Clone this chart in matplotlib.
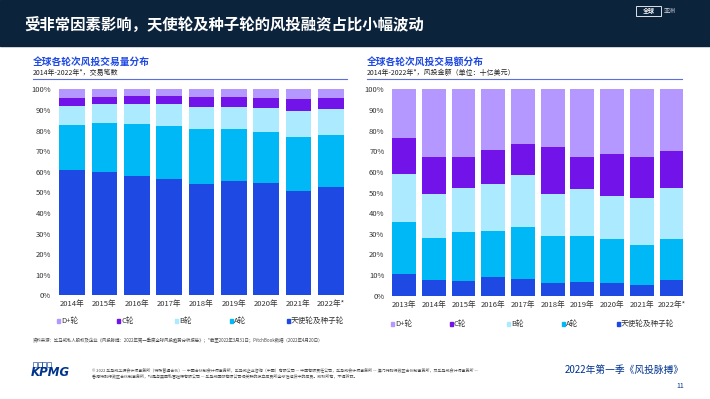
import matplotlib.pyplot as plt
import numpy as np
from matplotlib.patches import Rectangle

plt.rcParams['font.family'] = ['Noto Sans CJK SC', 'DejaVu Sans']

# ---- data (shares in %) ----
years_l = ['2014年', '2015年', '2016年', '2017年', '2018年', '2019年', '2020年', '2021年', '2022年*']
seed_l = [60.8, 59.8, 57.9, 56.5, 54.0, 55.5, 54.7, 50.8, 52.4]
a_l = [21.9, 23.7, 25.3, 25.8, 26.7, 25.4, 24.7, 26.0, 25.6]
b_l = [9.2, 9.2, 9.7, 10.6, 10.9, 10.7, 11.5, 12.7, 12.6]
c_l = [4.0, 3.7, 3.7, 3.9, 4.8, 4.8, 5.0, 5.8, 5.3]
d_l = [4.1, 3.6, 3.4, 3.2, 3.6, 3.6, 4.1, 4.7, 4.1]

years_r = ['2013年', '2014年', '2015年', '2016年', '2017年', '2018年', '2019年', '2020年', '2021年', '2022年*']
seed_r = [10.7, 7.8, 7.3, 8.9, 8.1, 6.3, 6.8, 6.3, 5.3, 7.5]
a_r = [25.0, 20.1, 23.8, 22.5, 25.1, 22.5, 22.0, 21.1, 19.1, 19.8]
b_r = [23.3, 21.4, 21.1, 22.8, 25.4, 20.4, 22.8, 21.1, 23.1, 24.9]
c_r = [17.4, 17.7, 14.8, 16.3, 15.1, 22.8, 15.4, 20.0, 19.5, 18.0]
d_r = [23.6, 33.0, 33.0, 29.5, 26.3, 28.0, 33.0, 31.5, 33.0, 29.8]

labels = ['D+轮', 'C轮', 'B轮', 'A轮', '天使轮及种子轮']
colors = ['#B497FF', '#7213EA', '#ACEAFF', '#00B8F5', '#1E49E2']

W, H = 710, 399
fig = plt.figure(figsize=(W / 100, H / 100), dpi=100)


def fx(x):
    return x / W


def fy(y):
    return 1 - y / H


# header band
fig.patches.append(Rectangle((0, fy(46)), 1, 46 / H, transform=fig.transFigure,
                             color='#0C233C', zorder=0))
fig.text(fx(24), fy(25.5), '受非常因素影响，天使轮及种子轮的风投融资占比小幅波动',
         color='white', fontsize=11.1, fontweight='bold', va='center')
fig.patches.append(Rectangle((fx(636), fy(16)), 25 / W, 10 / H, transform=fig.transFigure,
                             fill=False, edgecolor='white', lw=0.6))
fig.text(fx(648.5), fy(11), '全球', color='white', fontsize=4.3, ha='center', va='center',
         fontweight='bold')
fig.text(fx(664), fy(11), '亚洲', color='#C8CFD8', fontsize=4.3, va='center')


def stacked(ax, years, seed, a, b, c, d):
    x = np.arange(len(years))
    series = [seed, a, b, c, d]
    cols = colors[::-1]
    bottom = np.zeros(len(years))
    for s, col in zip(series, cols):
        ax.bar(x, s, 0.8, bottom=bottom, color=col, linewidth=0)
        bottom += np.array(s)
    ax.set_xlim(-0.5, len(years) - 0.5)
    ax.set_ylim(0, 100)
    ax.set_yticks(np.arange(0, 101, 10))
    ax.set_yticklabels([f'{v}%' for v in range(0, 101, 10)])
    ax.set_xticks(x)
    ax.set_xticklabels(years)
    ax.tick_params(length=0, labelsize=5.5, labelcolor='#333333', pad=3.5)
    for sp in ax.spines.values():
        sp.set_visible(False)


axl = fig.add_axes([fx(56), fy(295.3), 291 / W, 206 / H])
stacked(axl, years_l, seed_l, a_l, b_l, c_l, d_l)
axr = fig.add_axes([fx(389.3), fy(295.7), 297 / W, 206.4 / H])
stacked(axr, years_r, seed_r, a_r, b_r, c_r, d_r)

# chart titles
for x0, x1, t, st in [(33, 347, '全球各轮次风投交易量分布', '2014年-2022年*，交易笔数'),
                      (367, 682, '全球各轮次风投交易额分布', '2014年-2022年*，风投金额（单位：十亿美元）')]:
    fig.text(fx(x0), fy(62), t, color='#1E49E2', fontsize=7, fontweight='bold', va='center')
    fig.text(fx(x0), fy(72.5), st, color='#222222', fontsize=5, va='center')
    fig.add_artist(plt.Line2D([fx(x0), fx(x1)], [fy(79), fy(79)], color='#5B6FE0', lw=0.8))

# legends
for xs, yl in [([58, 118, 176, 231, 288], 321), ([392, 451, 508, 563, 618], 324)]:
    for xm, lab, col in zip(xs, labels, colors):
        fig.patches.append(Rectangle((fx(xm - 1.5), fy(yl + 1.8)), 3.6 / W, 3.6 / H,
                                     transform=fig.transFigure, color=col))
        fig.text(fx(xm + 3), fy(yl), lab, fontsize=5.5, color='#333333', va='center')

# footnote
fig.text(fx(33), fy(340), '资料来源：毕马威私人股权及企业《风投脉搏：2022年第一季度全球风投趋势分析报告》；'
         '*截至2022年3月31日；PitchBook数据（2022年4月20日）', fontsize=3.2, color='#444444',
         va='center')

# footer
for i in range(4):
    fig.patches.append(Rectangle((fx(33 + i * 4.6), fy(367)), 4 / W, 5 / H,
                                 transform=fig.transFigure, fill=False,
                                 edgecolor='#00338D', lw=0.4))
fig.text(fx(31), fy(372.5), 'KPMG', fontsize=8.5, fontweight='bold', style='italic',
         color='#00338D', va='center', family='DejaVu Sans')
fig.text(fx(92), fy(370), '© 2022 毕马威华振会计师事务所（特殊普通合伙）— 中国合伙制会计师事务所，毕马威企业咨询（中国）有限公司 — '
         '中国有限责任公司，毕马威会计师事务所 — 澳门特别行政区合伙制事务所，及毕马威会计师事务所 —',
         fontsize=2.9, color='#444444', va='center')
fig.text(fx(92), fy(375.5), '香港特别行政区合伙制事务所，均是与英国私营担保有限公司 — 毕马威国际有限公司相关联的'
         '独立成员所全球性组织中的成员。版权所有，不得转载。',
         fontsize=2.9, color='#444444', va='center')
fig.text(fx(684), fy(370), '2022年第一季《风投脉搏》', fontsize=7, color='#00338D',
         ha='right', va='center')
fig.text(fx(684), fy(386), '11', fontsize=5, color='#00338D', ha='right', va='center')

fig.savefig('out.png', dpi=100)
